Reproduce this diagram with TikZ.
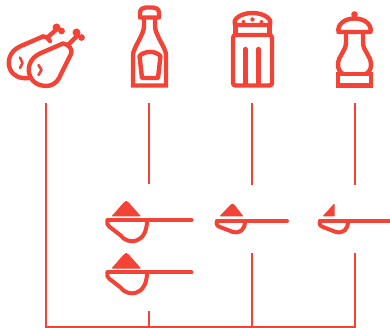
\documentclass[tikz,border=0pt]{standalone}
\definecolor{sauce}{RGB}{242, 67, 54}
\usepackage{tikz}
\usetikzlibrary{calc}

\begin{document}
\begin{tikzpicture}[
  x=1pt, y=-1pt,
  icon/.style={draw=sauce, line width=4.4pt, line join=round, line cap=round},
  rule/.style={draw=sauce, line width=1.6pt},
  heap/.style={fill=sauce, draw=sauce, line width=1pt, line join=round},
  pics/scoop/.style={code={
    \draw[icon, line width=4pt] (0,0) -- (#1,0);
    \draw[icon, line width=4pt] (0,0) .. controls (-1,3) and (0,5) .. (2,6.5) -- (13,15) .. controls (20,25) and (39.5,24) .. (39.5,0);
  }},
  pics/flatscoop/.style={code={
    \draw[icon, line width=4pt] (0,0) -- (#1,0);
    \draw[icon, line width=4pt] (0,0) .. controls (-1,3) and (0,5) .. (3,6) -- (16,11) .. controls (23,12.5) and (28,9) .. (28,0);
  }}
]
  \useasboundingbox (0,0) rectangle (390,328);
  % ends of the rules
  \coordinate (legtop) at (46,103);
  \coordinate (legfoot) at (46,327);
  \coordinate (bottletop) at (149,103);
  \coordinate (bottleend) at (149,184);
  \coordinate (bottlerest) at (149,311);
  \coordinate (bottlefoot) at (149,327);
  \coordinate (salttop) at (252,103);
  \coordinate (saltend) at (252,185);
  \coordinate (saltrest) at (252,253);
  \coordinate (saltfoot) at (252,327);
  \coordinate (peppertop) at (355,103);
  \coordinate (pepperend) at (355,185);
  \coordinate (pepperrest) at (355,253);
  \coordinate (pepperfoot) at (355,327);

  \draw[rule] (legtop) -- (legfoot) -- (pepperfoot) -- (pepperrest);
  \draw[rule] (pepperend) -- (peppertop);
  \draw[rule] (bottletop) -- (bottleend);
  \draw[rule] (bottlerest) -- (bottlefoot);
  \draw[rule] (salttop) -- (saltend);
  \draw[rule] (saltrest) -- (saltfoot);

  % drumsticks
  \draw[icon] (43,36.5) -- (21,46) .. controls (9,51) and (7,62) .. (10,69) .. controls (13,76) and (20,79) .. (29,78);
  \draw[icon] (43,36.5) .. controls (45,36) and (47,37) .. (50,41);
  \draw[icon] (48,37) -- (57,29);
  \fill[sauce] (56.5,27.5) circle (4pt) (61.5,31) circle (3.4pt);
  \draw[icon, line width=2.6pt] (20,57.5) -- (22.5,63) -- (20,68);
  \draw[icon] (63,43.5) -- (41,53) .. controls (29,58) and (27,69) .. (30,76) .. controls (33,84) and (42,87) .. (50,85.5) .. controls (56,84) and (59,79) .. (61,74) -- (71,54) .. controls (73,50) and (69,44) .. (63,43.5) -- cycle;
  \draw[icon] (69,44) -- (77,36);
  \fill[sauce] (76.5,32.5) circle (4pt) (81.5,37.5) circle (3.4pt);
  \draw[icon, line width=2.6pt] (38.5,65) -- (41.5,70) -- (38.5,75);

  % bottle
  \draw[icon] (140,17.5) -- (140,13) .. controls (140,9) and (143,7.5) .. (146,7.5) -- (153,7.5) .. controls (156,7.5) and (159,9) .. (159,13) -- (159,17.5) -- cycle;
  \draw[icon, line join=miter] (144,18) -- (144,26) .. controls (144,35) and (133,48) .. (133,55) -- (133,85.5) -- (166,85.5) -- (166,55) .. controls (166,48) and (155,35) .. (155,26) -- (155,18);
  \draw[icon] (139.5,56) .. controls (145,50.5) and (155,50.5) .. (160.5,56) -- (158,78) -- (142,78) -- cycle;

  % shaker
  \draw[icon] (235,25) .. controls (232,20) and (240,13) .. (252.5,13) .. controls (265,13) and (273,20) .. (270,25) -- cycle;
  \draw[icon] (235.5,26) -- (235.5,35) -- (269.5,35) -- (269.5,26);
  \fill[sauce] (252.5,19.5) circle (2.2pt) (243.5,22) circle (2pt) (261.5,22) circle (2pt);
  \draw[icon] (236,35) -- (269,35) .. controls (271,35) and (272,36) .. (272,38) -- (272,83) .. controls (272,85) and (271,85.5) .. (269,85.5) -- (236,85.5) .. controls (234,85.5) and (233,85) .. (233,83) -- (233,38) .. controls (233,36) and (234,35) .. (236,35) -- cycle;
  \draw[icon] (245.5,49) -- (245.5,85);
  \draw[icon] (258.5,49) -- (258.5,85);

  % mill
  \fill[sauce] (354.5,14.5) circle (3.3pt);
  \draw[icon] (338.5,32) .. controls (337,24) and (345,18.5) .. (354.5,18.5) .. controls (364,18.5) and (372,24) .. (370.5,32) -- cycle;
  \draw[icon] (346,33) -- (346,42) .. controls (346,52) and (338,55) .. (338,65) .. controls (338,69) and (340,72) .. (342,73);
  \draw[icon] (363,33) -- (363,42) .. controls (363,52) and (371,55) .. (371,65) .. controls (371,69) and (369,72) .. (367,73);
  \draw[icon, line join=miter] (338,74) -- (371,74) -- (371,85.5) -- (338,85.5) -- cycle;

  % spoons
  \draw[heap] (112.5,216) -- (124,203) .. controls (125.5,201) and (127,201) .. (128.5,203) -- (140,216) -- cycle;
  \pic at (107.5,220.3) {scoop=84};
  \draw[heap] (112.5,268) -- (124,255) .. controls (125.5,253) and (127,253) .. (128.5,255) -- (140,268) -- cycle;
  \pic at (107.5,272.4) {scoop=84};
  \draw[heap] (220.5,216) -- (231,205) .. controls (232,204) and (233,204) .. (234,205) -- (242.5,216) -- cycle;
  \pic at (217,221) {flatscoop=70};
  \draw[heap] (323.5,216) -- (334,204.5) -- (334,216) -- cycle;
  \pic at (320,221) {flatscoop=72};
\end{tikzpicture}
\end{document}
